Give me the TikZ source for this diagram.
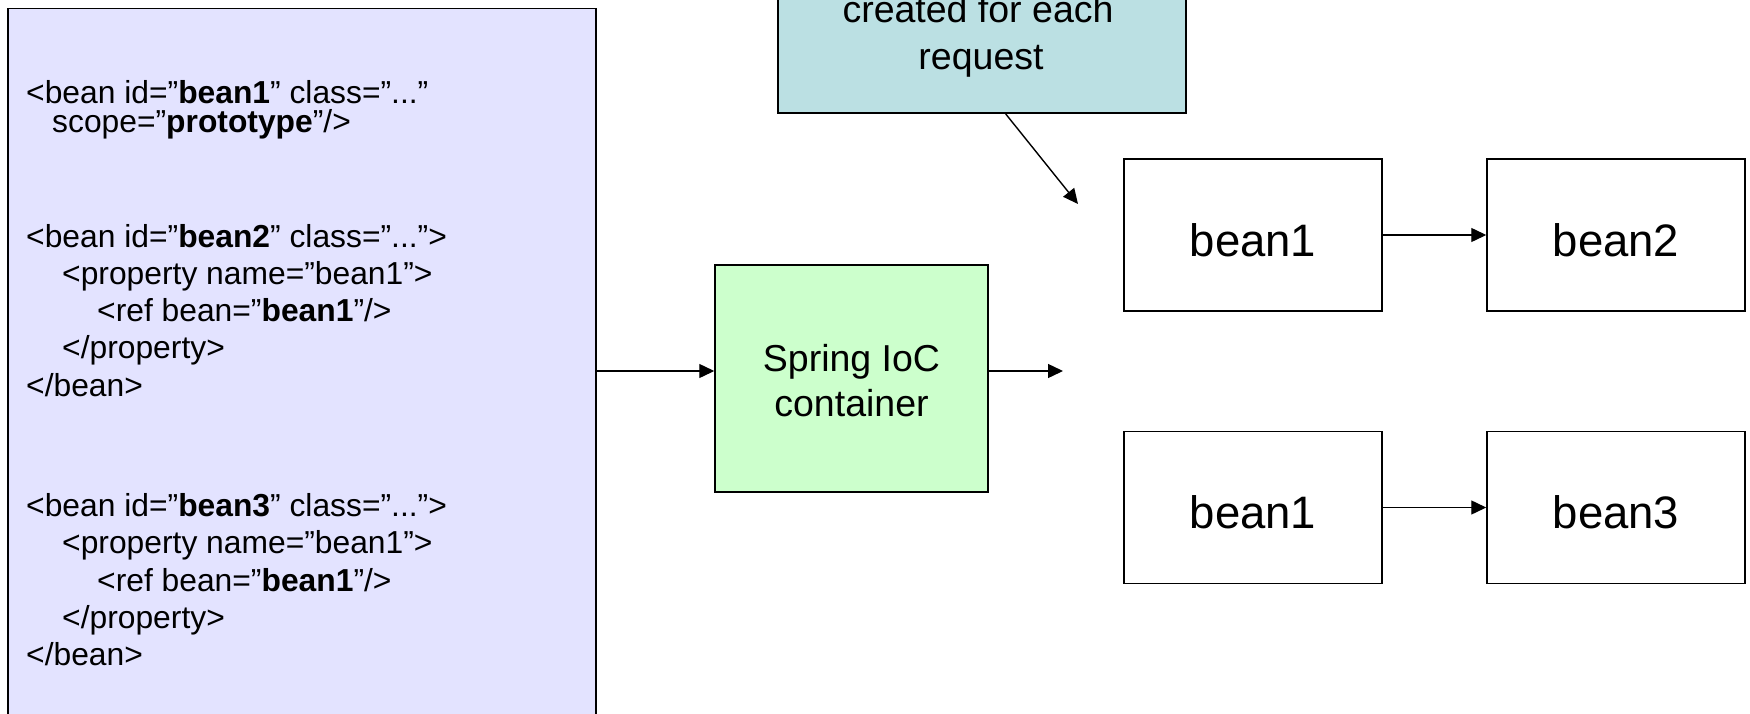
\documentclass[tikz,border=0pt]{standalone}
\usepackage{fontspec}
\setmainfont{Liberation Sans}
\usetikzlibrary{arrows.meta}
\definecolor{lav}{RGB}{227,227,255}
\definecolor{mint}{RGB}{204,255,204}
\definecolor{teal}{RGB}{187,224,227}
\begin{document}
\begin{tikzpicture}[x=1pt,y=-1pt,
  code/.style={anchor=base west,inner sep=0pt,font=\fontsize{31.8}{37}\selectfont},
  box/.style={draw=black,line width=1.5pt,inner sep=0pt},
  beanbox/.style={box,fill=white,minimum width=258pt,minimum height=152pt,
    font=\fontsize{45.5}{50}\selectfont,text height=42pt,text depth=0pt},
  arr/.style={-{Triangle[length=15pt,width=14pt]},line width=1.4pt},
  big/.style={anchor=base,inner sep=0pt,font=\fontsize{37.5}{44}\selectfont}]
\useasboundingbox (0,0) rectangle (1750,714);
\clip (0,0) rectangle (1750,714);
\fill[white] (0,0) rectangle (1750,714);

% left XML box
\node[box,fill=lav,minimum width=588pt,minimum height=780pt,anchor=north west] (xml) at (7,8) {};
\node[code] (t1) at (26,103.5) {<bean id=”\textbf{bean1}” class=”...”};
\node[code] (t2) at (52,132.5) {scope=”\textbf{prototype}”/>};

\node[code] (t3) at (26,247) {<bean id=”\textbf{bean2}” class=”...”>};
\node[code] (t4) at (62,284.3) {<property name=”bean1”>};
\node[code] (t5) at (97,321.6) {<ref bean=”\textbf{bean1}”/>};
\node[code] (t6) at (62,358.9) {</property>};
\node[code] (t7) at (26,396.2) {</bean>};

\node[code] (t8) at (26,516.5) {<bean id=”\textbf{bean3}” class=”...”>};
\node[code] (t9) at (62,553.8) {<property name=”bean1”>};
\node[code] (t10) at (97,591.1) {<ref bean=”\textbf{bean1}”/>};
\node[code] (t11) at (62,628.4) {</property>};
\node[code] (t12) at (26,665.7) {</bean>};

% callout
\node[box,fill=teal,minimum width=408pt,minimum height=230pt,anchor=south west] (call) at (777,114) {};
\node[big] (c1) at (978,23) {created for each};
\node[big] (c2) at (981,70) {request};

% container
\node[box,fill=mint,minimum width=273pt,minimum height=227pt] (ioc) at (851.5,378.5) {};
\node[big] (g1) at (851.5,371.5) {Spring IoC};
\node[big] (g2) at (851.5,416) {container};

% beans
\node[beanbox] (b1) at (1253,235) {bean1};
\node[beanbox] (b2) at (1616,235) {bean2};
\node[beanbox] (b3) at (1253,507.5) {bean1};
\node[beanbox] (b4) at (1616,507.5) {bean3};

% connectors
\coordinate (ylev) at (0,371);
\coordinate (outend) at (1063,371);
\coordinate (calltip) at (1078,204);
\draw[arr] (xml.east |- ylev) -- (ioc.west |- ylev);
\draw[arr] (ioc.east |- ylev) -- (outend);
\draw[arr] ([xshift=24pt]call.south) -- (calltip);
\draw[arr] (b1.east) -- (b2.west);
\draw[arr] (b3.east) -- (b4.west);
\end{tikzpicture}
\end{document}
